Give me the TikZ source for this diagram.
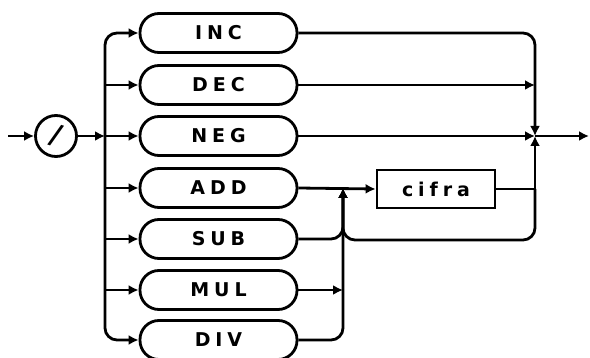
\documentclass[tikz,border=0pt]{standalone}
\usepackage{fontspec}
\setmainfont{DejaVu Sans}
\newfontfamily\labfont{DejaVu Sans}[LetterSpace=26]
\usetikzlibrary{arrows.meta,calc}
\begin{document}
\begin{tikzpicture}[x=1pt,y=-1pt,
  ln/.style={line width=2.8pt},
  arr/.style={ln,-{Latex[length=10pt,width=10pt]}},
  cmdbox/.style={draw,ln,rectangle,rounded corners=19pt,minimum width=157pt,minimum height=39pt,inner sep=0pt,font=\labfont\bfseries\fontsize{19}{19}\selectfont},
  valbox/.style={draw,ln,rectangle,minimum width=118pt,minimum height=38pt,inner sep=0pt,font=\labfont\bfseries\fontsize{19}{19}\selectfont},
  slashc/.style={draw,ln,circle,minimum size=41pt,inner sep=0pt,font=\bfseries\fontsize{28}{28}\selectfont}]
\useasboundingbox[fill=white] (0,0) rectangle (590,358);
% nodes
\node[slashc] (circ) at (56,136) {\rotatebox{-18}{/}};
\node[cmdbox] (INC) at (218.5,33) {INC};
\node[cmdbox] (DEC) at (218.5,85) {DEC};
\node[cmdbox] (NEG) at (218.5,136) {NEG};
\node[cmdbox] (ADD) at (218.5,188) {ADD};
\node[cmdbox] (SUB) at (218.5,239) {SUB};
\node[cmdbox] (MUL) at (218.5,290) {MUL};
\node[cmdbox] (DIV) at (218.5,340) {DIV};
\node[valbox] (cifra) at (436,189) {cifra};
% coordinates
\coordinate (start) at (8,136);
\coordinate (bus) at (105,136);
\coordinate (J) at (535,136);
\coordinate (exit) at (589,136);
\coordinate (K) at (343,188);
\coordinate (loopR) at (535,189);
\coordinate (loopB) at (343,240);
% entry
\draw[arr] (start) -- (circ.west);
\draw[arr] (circ.east) -- (bus);
% bus to boxes
\draw[arr,rounded corners=12pt] (bus) |- (INC.west);
\draw[arr,rounded corners=12pt] (bus) |- (DIV.west);
\draw[arr] (DEC.west -| bus) -- (DEC.west);
\draw[arr] (bus) -- (NEG.west);
\draw[arr] (ADD.west -| bus) -- (ADD.west);
\draw[arr] (SUB.west -| bus) -- (SUB.west);
\draw[arr] (MUL.west -| bus) -- (MUL.west);
% right side
\draw[arr,rounded corners=12pt] (INC.east) -| (J);
\draw[arr] (DEC.east) -- (DEC.east -| J);
\draw[arr] (NEG.east) -- (J);
\draw[arr] (J) -- (exit);
\draw[arr] (ADD.east) -- (cifra.west);
\draw[ln] (cifra.east) -- (loopR);
\draw[arr] (loopR) -- (J);
\draw[arr,rounded corners=12pt] (loopR) |- (loopB) -- (K);
\draw[arr,rounded corners=12pt] (SUB.east) -| (K);
\draw[arr] (MUL.east) -- (MUL.east -| K);
\draw[arr,rounded corners=12pt] (DIV.east) -| (K);
\end{tikzpicture}
\end{document}
